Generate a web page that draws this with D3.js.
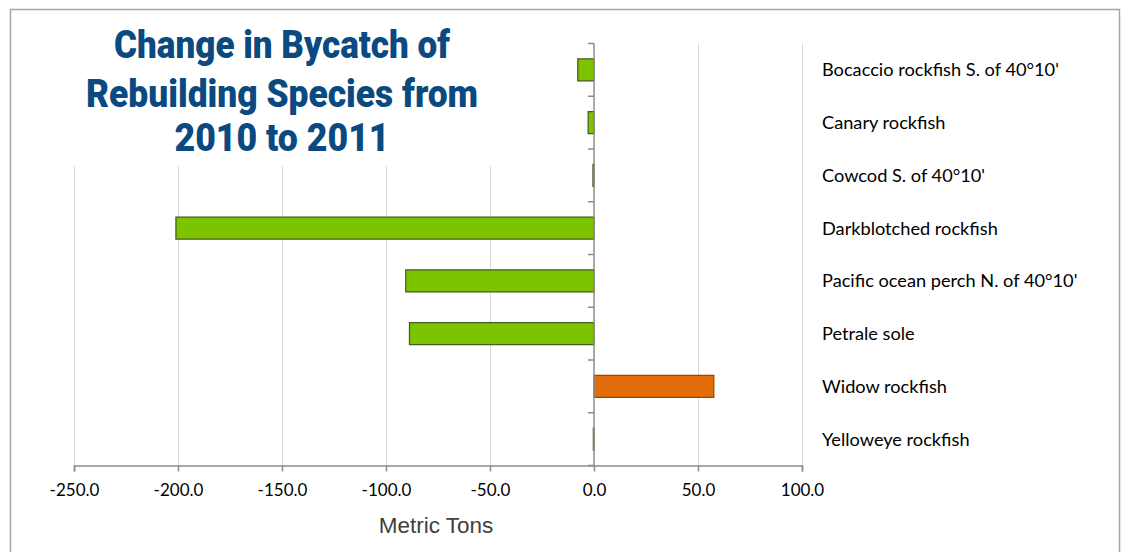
<!DOCTYPE html>
<html>
<head>
<meta charset="utf-8">
<script src="https://cdn.jsdelivr.net/npm/d3@7"></script>
<style>
  html, body { margin: 0; padding: 0; background: #fff; }
  svg { display: block; }
</style>
</head>
<body>
<svg id="chart" width="1124" height="552"></svg>
<script>
// Species, ordered top to bottom
const categories = [
  "Bocaccio rockfish S. of 40°10'",
  "Canary rockfish",
  "Cowcod S. of 40°10'",
  "Darkblotched rockfish",
  "Pacific ocean perch N. of 40°10'",
  "Petrale sole",
  "Widow rockfish",
  "Yelloweye rockfish"
];
// Change in bycatch, 2010 -> 2011 (metric tons)
const changes = [-7.8, -2.8, -0.5, -201.0, -90.5, -88.7, 57.6, -0.3];
// Value axis ticks
const tickValues = [-250, -200, -150, -100, -50, 0, 50, 100];
const titleLines = ["Change in Bycatch of", "Rebuilding Species from", "2010 to 2011"];
const axisTitle = "Metric Tons";

const svg = d3.select("#chart");

// Outer frame
svg.append("rect")
  .attr("x", 10.5).attr("y", 9.5)
  .attr("width", 1109).attr("height", 600)
  .attr("fill", "none").attr("stroke", "#a6a6a6").attr("stroke-width", 1.5);

const x = d3.scaleLinear().domain([-250, 100]).range([74, 802]);
const yBand = d3.scaleBand().domain(categories).range([43.5, 465.5]);

// Vertical gridlines
svg.append("g").selectAll("line")
  .data(tickValues.filter(v => v !== 0))
  .join("line")
  .attr("x1", d => Math.round(x(d)) + 0.5).attr("x2", d => Math.round(x(d)) + 0.5)
  .attr("y1", 43.5).attr("y2", 465)
  .attr("stroke", "#d9d9d9").attr("stroke-width", 1);

// Bars
svg.append("g").selectAll("rect")
  .data(categories.map((c, i) => ({ c, v: changes[i] })))
  .join("rect")
  .attr("x", d => x(Math.min(0, d.v)))
  .attr("y", d => yBand(d.c) + yBand.bandwidth() / 2 - 11)
  .attr("width", d => Math.abs(x(d.v) - x(0)))
  .attr("height", 22)
  .attr("fill", d => d.v >= 0 ? "#E46C0A" : "#7DC400")
  .attr("stroke", d => d.v >= 0 ? "#984807" : "#4A5E24")
  .attr("stroke-width", 1.3);

// Category axis at zero
const catAxis = svg.append("g").attr("stroke", "#8c8c8c").attr("stroke-width", 1.5);
catAxis.append("line")
  .attr("x1", x(0)).attr("x2", x(0)).attr("y1", 43.5).attr("y2", 465.5);
catAxis.selectAll("line.tick")
  .data(d3.range(categories.length + 1))
  .join("line").attr("class", "tick")
  .attr("x1", x(0) - 6).attr("x2", x(0))
  .attr("y1", i => 43.5 + i * yBand.step()).attr("y2", i => 43.5 + i * yBand.step());

// Value axis (hyphen-minus for negatives)
const fmt = d3.format(".1f");
const xAxis = d3.axisBottom(x).tickValues(tickValues).tickSize(6).tickPadding(12)
  .tickFormat(d => fmt(d).replace("\u2212", "-"));
const gx = svg.append("g").attr("transform", "translate(0,465.5)").call(xAxis);
gx.select(".domain").attr("stroke", "#8c8c8c").attr("stroke-width", 1.5);
gx.selectAll(".tick line").attr("stroke", "#8c8c8c").attr("stroke-width", 1.5);
gx.selectAll(".tick text")
  .attr("font-family", "Lato, 'Open Sans', sans-serif")
  .attr("font-size", 17).attr("fill", "#000");

svg.append("text")
  .attr("x", 436).attr("y", 533)
  .attr("text-anchor", "middle")
  .attr("font-family", "'Liberation Sans', Arial, sans-serif")
  .attr("font-size", 22.5).attr("fill", "#404040")
  .text(axisTitle);

// Category labels on the right
svg.append("g").selectAll("text")
  .data(categories)
  .join("text")
  .attr("x", 822)
  .attr("y", d => yBand(d) + yBand.bandwidth() / 2 + 6.5)
  .attr("font-family", "Lato, 'Open Sans', sans-serif")
  .attr("font-size", 18.2).attr("fill", "#000")
  .text(d => d);

// Title block with white background
svg.append("rect")
  .attr("x", 62).attr("y", 20).attr("width", 436).attr("height", 146)
  .attr("fill", "#fff");
const titleWidths = [336, 392, 215];
const titleBase = [58, 107, 151];
svg.append("g").selectAll("text")
  .data(titleLines)
  .join("text")
  .attr("x", 282)
  .attr("y", (d, i) => titleBase[i])
  .attr("text-anchor", "middle")
  .attr("font-family", "Roboto, sans-serif")
  .attr("font-weight", 900)
  .attr("font-size", 39)
  .attr("fill", "#0A4A80")
  .attr("textLength", (d, i) => titleWidths[i])
  .attr("lengthAdjust", "spacingAndGlyphs")
  .text(d => d);
</script>
</body>
</html>
